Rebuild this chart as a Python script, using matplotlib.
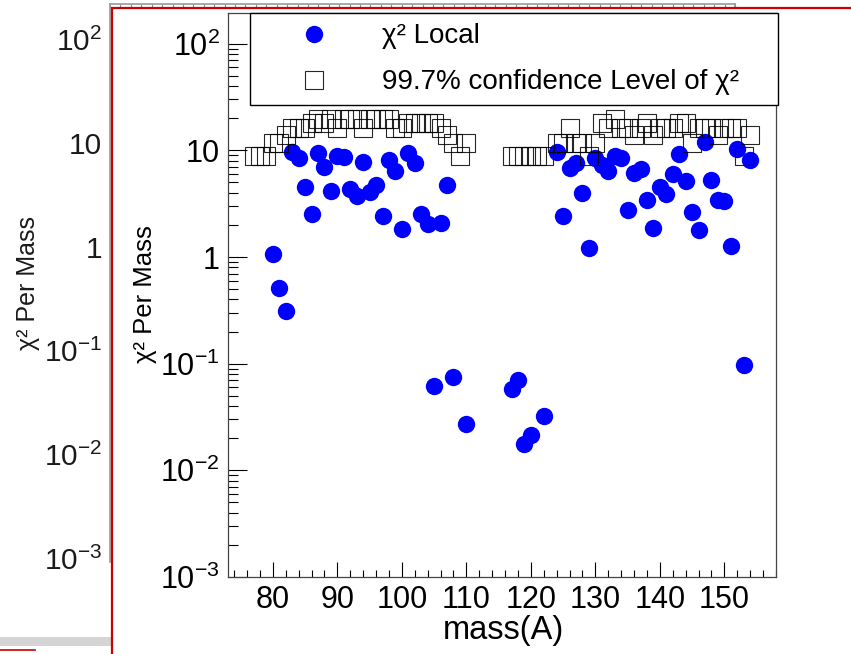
import numpy as np
import matplotlib
matplotlib.use('Agg')
import matplotlib.pyplot as plt
from matplotlib.patches import Rectangle
from matplotlib.lines import Line2D
from matplotlib.ticker import FixedLocator, FixedFormatter, MultipleLocator, NullFormatter

plt.rcParams['font.family'] = ['Liberation Sans', 'DejaVu Sans']
plt.rcParams['mathtext.fontset'] = 'custom'
plt.rcParams['mathtext.rm'] = 'Liberation Sans'
plt.rcParams['mathtext.it'] = 'Liberation Sans:italic'
plt.rcParams['mathtext.bf'] = 'Liberation Sans:bold'

# --- data ---
mass_local = [80, 81, 82, 83, 84, 85, 86, 87, 88, 89, 90, 91, 92, 93, 94, 95, 96, 97, 98, 99,
              100, 101, 102, 103, 104, 105, 106, 107, 108, 110,
              117, 118, 119, 120, 122,
              124, 125, 126, 127, 128, 129, 130, 131, 132, 133, 134, 135, 136, 137, 138, 139,
              140, 141, 142, 143, 144, 145, 146, 147, 148, 149, 150, 151, 152, 153, 154]
chi2_local = [1.07, 0.51, 0.31, 9.7, 8.4, 4.5, 2.55, 9.4, 7.0, 4.2, 8.9, 8.7, 4.3, 3.7, 7.7, 4.1, 4.7, 2.4, 8.2, 6.45,
              1.82, 9.4, 7.6, 2.53, 2.04, 0.062, 2.07, 4.7, 0.0745, 0.027,
              0.058, 0.070, 0.0178, 0.0214, 0.032,
              9.7, 2.4, 6.9, 7.6, 3.95, 1.22, 8.4, 7.25, 6.4, 8.8, 8.4, 2.74, 6.15, 6.75, 3.45, 1.87,
              4.54, 3.87, 6.06, 9.2, 5.17, 2.64, 1.80, 12.0, 5.25, 3.4, 3.33, 1.26, 10.2, 0.097, 8.1]

mass_cl = [77, 78, 79, 80, 81, 82, 83, 84, 85, 86, 87, 88, 89, 90, 91, 92, 93, 94, 95, 96, 97, 98, 99,
           100, 101, 102, 103, 104, 105, 106, 107, 108, 109, 110,
           117, 118, 119, 120, 121, 122,
           124, 125, 126, 127, 128, 129, 130, 131, 132, 133, 134, 135, 136, 137, 138, 139,
           140, 141, 142, 143, 144, 145, 146, 147, 148, 149, 150, 151, 152, 153, 154]
chi2_cl = [8.85, 8.85, 8.85, 11.6, 11.6, 13.8, 16.1, 16.1, 16.1, 17.9, 19.6, 17.9, 19.6, 16.1, 19.6, 19.6, 19.6, 16.1, 19.6, 19.6, 19.6, 19.6, 16.1,
           16.1, 17.9, 17.9, 17.9, 17.9, 17.9, 16.1, 13.8, 11.6, 8.85, 11.6,
           8.85, 8.85, 8.85, 8.85, 8.85, 8.85,
           11.6, 11.6, 16.1, 11.6, 11.6, 8.85, 11.6, 17.9, 16.1, 19.6, 16.1, 16.1, 14.0, 16.1, 17.9, 14.0,
           16.1, 16.1, 16.1, 17.9, 17.9, 11.6, 16.1, 16.1, 16.1, 14.0, 16.1, 16.1, 16.1, 8.85, 13.9]

decades = [1e-3, 1e-2, 1e-1, 1, 10, 100]
decade_labels = [r'$\mathregular{10^{-3}}$', r'$\mathregular{10^{-2}}$', r'$\mathregular{10^{-1}}$',
                 '1', '10', r'$\mathregular{10^{2}}$']
minor_ticks = [m * d for d in decades[:-1] for m in range(2, 10)] + [200]

W, H = 851, 654
fig = plt.figure(figsize=(W / 100, H / 100), dpi=100)

# --- window in the back (only its left part is visible) ---
ax_bg = fig.add_axes([110 / W, 1 - 562 / H, 625 / W, 558 / H], zorder=0)
ax_bg.set_yscale('log')
ax_bg.set_ylim(10 ** -3.0386, 10 ** 2.343)
ax_bg.set_xlim(0, 60)
ax_bg.yaxis.set_major_locator(FixedLocator(decades))
ax_bg.yaxis.set_major_formatter(FixedFormatter(decade_labels))
ax_bg.yaxis.set_minor_formatter(NullFormatter())
ax_bg.tick_params(axis='y', which='both', length=0, pad=5.5, labelsize=21.5, colors='#1a1a1a')
ax_bg.xaxis.set_ticks_position('top')
ax_bg.xaxis.set_major_locator(MultipleLocator(1))
ax_bg.tick_params(axis='x', which='both', direction='in', length=3, color='#888888', labeltop=False, labelbottom=False)
for s in ax_bg.spines.values():
    s.set_color('#999999')
    s.set_linewidth(1.2)
ax_bg.spines['bottom'].set_visible(False)
fig.text(28 / W, 1 - 283 / H, 'χ² Per Mass', rotation=90, ha='center', va='center', fontsize=18, color='#1a1a1a')

fig.patches.append(Rectangle((0, 1 - 646 / H), 112 / W, 9 / H, transform=fig.transFigure,
                             facecolor='#d4d4d4', edgecolor='none', zorder=0.5))
fig.lines.append(Line2D([0, 35 / W], [1 - 650 / H] * 2, transform=fig.transFigure, color='#cc0000', lw=1.2, zorder=0.5))

# --- front window with red frame ---
fig.patches.append(Rectangle((112 / W, -0.05), 1.0, 1 - 8 / H + 0.05, transform=fig.transFigure,
                             facecolor='white', edgecolor='#cc0000', lw=1.6, zorder=1))

ax = fig.add_axes([227.7 / W, 1 - 577 / H, 548.3 / W, 564.5 / H], zorder=2)
ax.set_yscale('log')
ax.set_ylim(1e-3, 196)
ax.set_xlim(73, 158)

ax.plot(mass_local, chi2_local, 'o', color='#0000ff', markersize=12.5, markeredgewidth=0,
        label='χ² Local', zorder=3)
ax.plot(mass_cl, chi2_cl, 's', markerfacecolor='none', markeredgecolor='black', markersize=13,
        markeredgewidth=0.8, alpha=0.85, label='99.7% confidence Level of χ²', zorder=4)

ax.yaxis.set_major_locator(FixedLocator(decades))
ax.yaxis.set_major_formatter(FixedFormatter(decade_labels))
ax.yaxis.set_minor_locator(FixedLocator(minor_ticks))
ax.yaxis.set_minor_formatter(NullFormatter())
ax.xaxis.set_major_locator(MultipleLocator(10))
ax.xaxis.set_minor_locator(MultipleLocator(2))
ax.tick_params(which='both', direction='in', top=False, right=False, width=0.8, labelsize=22)
ax.tick_params(axis='x', which='major', length=10.5, pad=5.5)
ax.tick_params(axis='x', which='minor', length=5.3)
ax.tick_params(axis='y', which='major', length=13.5, pad=5.5)
ax.tick_params(axis='y', which='minor', length=7)
for s in ax.spines.values():
    s.set_linewidth(0.9)
    s.set_color('#444444')

fig.text(503 / W, 1 - 631 / H, 'mass(A)', ha='center', va='center', fontsize=23.5, zorder=3)
fig.text(145 / W, 1 - 294 / H, 'χ² Per Mass', rotation=90, ha='center', va='center', fontsize=18.5, zorder=3)

leg = ax.legend(loc='upper left', bbox_to_anchor=(0.0407, 0.0, 0.963, 0.9986), mode='expand',
                fontsize=20, handlelength=3.9, handletextpad=0.5, labelspacing=0.72, borderpad=0.36,
                borderaxespad=0, fancybox=False, framealpha=1, edgecolor='black')
leg.get_frame().set_linewidth(1.0)
leg.set_zorder(5)

fig.savefig('out.png', dpi=100)
